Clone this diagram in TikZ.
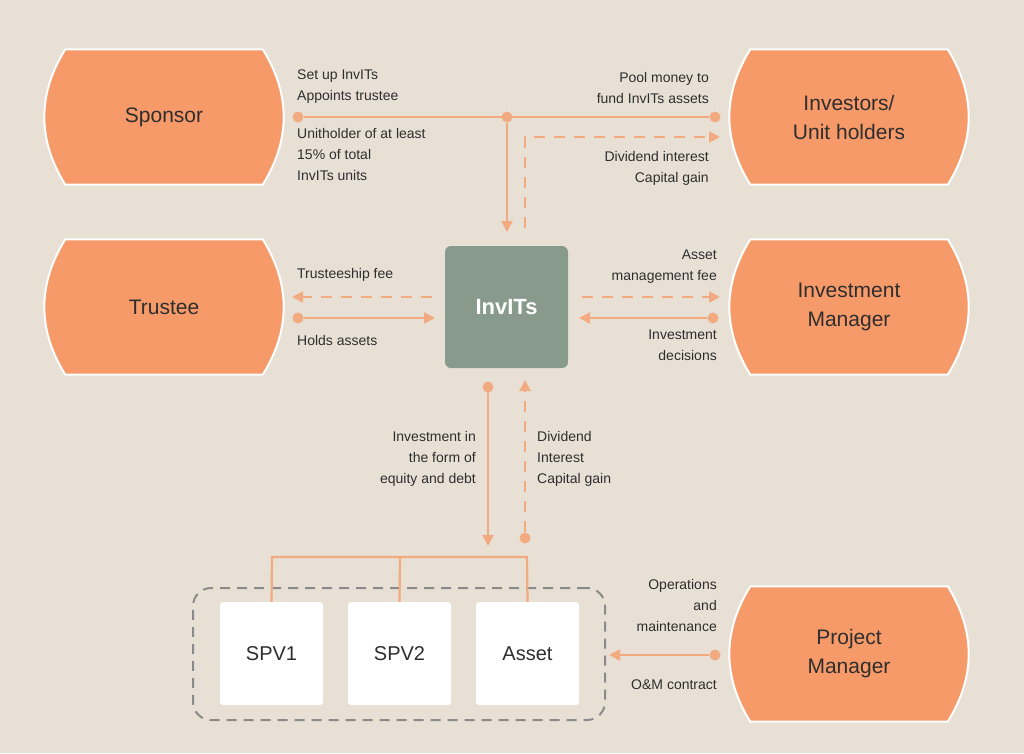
\documentclass[tikz,border=0pt]{standalone}
\usepackage{fontspec}
\setmainfont{Liberation Sans}
\usetikzlibrary{arrows.meta, backgrounds, calc}
\definecolor{bgc}{HTML}{E8E0D4}
\definecolor{orng}{HTML}{F79A69}
\definecolor{lnc}{HTML}{F2AA80}
\definecolor{grn}{HTML}{879A8C}
\definecolor{txt}{HTML}{2E2E2E}
\definecolor{dsh}{HTML}{8A8A8A}
\tikzset{
  party/.style={minimum width=197pt, minimum height=135pt, inner sep=0pt, align=center, text=txt, font=\fontsize{21}{29}\selectfont},
  barrel/.style={fill=orng, draw=white, line width=2pt},
  lbl/.style={inner sep=0pt, text=txt, font=\fontsize{14}{21}\selectfont},
  flow/.style={draw=lnc, line width=2.2pt, -{Triangle[length=11pt,width=11pt]}},
  dflow/.style={flow, dash pattern=on 11pt off 9pt},
  dot/.style={circle, fill=lnc, inner sep=0pt, minimum size=11pt},
  unit/.style={fill=white, rounded corners=3pt, minimum width=103pt, minimum height=103pt, inner sep=0pt, text=txt, font=\fontsize{20}{24}\selectfont}
}
\begin{document}
\begin{tikzpicture}[x=1pt, y=-1pt]
\begin{scope}[on background layer]
\fill[bgc] (0,0) rectangle (1024,753);
\end{scope}
% parties
\node[party] (spon) at (164,117) {Sponsor};
\node[party] (inv)  at (849,117) {Investors/\\Unit holders};
\node[party] (trus) at (164,307) {Trustee};
\node[party] (iman) at (849,307) {Investment\\Manager};
\node[party] (pman) at (849,654) {Project\\Manager};
\begin{scope}[on background layer]
\foreach \n in {spon,inv,trus,iman,pman}
  \filldraw[barrel] (\n.north west) -- (\n.north east)
    .. controls ($(\n.north east)+(28,45)$) and ($(\n.south east)+(28,-45)$) .. (\n.south east)
    -- (\n.south west)
    .. controls ($(\n.south west)+(-28,-45)$) and ($(\n.north west)+(-28,45)$) .. cycle;
\end{scope}
% central trust
\node[fill=grn, rounded corners=6pt, minimum width=123pt, minimum height=122pt, text=white, font=\bfseries\fontsize{22}{26}\selectfont] (invit) at (506.5,307) {InvITs};
% project assets
\node[draw=dsh, line width=2pt, dash pattern=on 10pt off 7pt, rounded corners=18pt, minimum width=412pt, minimum height=132pt] (grp) at (399,654) {};
\node[unit] (spv1) at (271.5,653.5) {SPV1};
\node[unit] (spv2) at (399.5,653.5) {SPV2};
\node[unit] (ast)  at (527.5,653.5) {Asset};
% connection points
\node[dot] (d1) at (298,117) {};
\node[dot] (d2) at (507,117) {};
\node[dot] (d3) at (715,117) {};
\coordinate (a1) at (507,232);
\coordinate (b0) at (525,228);
\coordinate (b1) at (525,137);
\coordinate (b2) at (720,137);
\coordinate (t1) at (432,297);
\coordinate (t2) at (292,297);
\node[dot] (d4) at (298,318) {};
\coordinate (t3) at (435,318);
\coordinate (m1) at (582,297);
\coordinate (m2) at (720,297);
\node[dot] (d5) at (713,318) {};
\coordinate (m3) at (579,318);
\node[dot] (d6) at (488,387) {};
\coordinate (s1) at (488,546);
\node[dot] (d7) at (525,538) {};
\coordinate (s2) at (525,380);
\coordinate (j1) at (272,557);
\coordinate (j2) at (400,557);
\coordinate (j3) at (527,557);
\node[dot] (d8) at (715,655) {};
\coordinate (p1) at (609,655);
% flows
\draw[draw=lnc, line width=2.2pt] (d1) -- (d3);
\draw[flow] (d2) -- (a1);
\draw[dflow] (b0) -- (b1) -- (b2);
\draw[dflow] (t1) -- (t2);
\draw[flow] (d4) -- (t3);
\draw[dflow] (m1) -- (m2);
\draw[flow] (d5) -- (m3);
\draw[flow] (d6) -- (s1);
\draw[dflow] (d7) -- (s2);
\draw[draw=lnc, line width=2.2pt] (spv1.north) -- (j1) -- (j3) -- (ast.north) (j2) -- (spv2.north);
\draw[flow] (d8) -- (p1);
% labels
\node[lbl, anchor=south west, align=left] (l1) at (297,104) {Set up InvITs\\Appoints trustee};
\node[lbl, anchor=north west, align=left] (l2) at (297,128) {Unitholder of at least\\15\% of total\\InvITs units};
\node[lbl, anchor=south east, align=right] (l3) at (709,104) {Pool money to\\fund InvITs assets};
\node[lbl, anchor=north east, align=right] (l4) at (709,151) {Dividend interest\\Capital gain};
\node[lbl, anchor=base west] (l5) at (297,278) {Trusteeship fee};
\node[lbl, anchor=base west] (l6) at (297,345) {Holds assets};
\node[lbl, anchor=south east, align=right] (l7) at (717,284) {Asset\\management fee};
\node[lbl, anchor=north east, align=right] (l8) at (717,330) {Investment\\decisions};
\node[lbl, anchor=north east, align=right] (l9) at (476,431) {Investment in\\the form of\\equity and debt};
\node[lbl, anchor=north west, align=left] (l10) at (537,431) {Dividend\\Interest\\Capital gain};
\node[lbl, anchor=north east, align=right] (l11) at (717,579) {Operations\\and\\maintenance};
\node[lbl, anchor=base east] (l12) at (717,689) {O\&M contract};
\end{tikzpicture}
\end{document}
